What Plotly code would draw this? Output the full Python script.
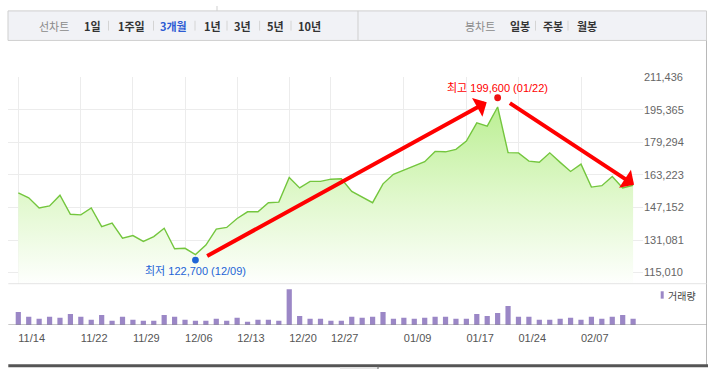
import plotly.graph_objects as go

W, H = 708, 369

# ---------------- data ----------------
dates = ["11/14", "11/15", "11/16", "11/17", "11/18", "11/21", "11/22", "11/23", "11/24", "11/25",
         "11/28", "11/29", "11/30", "12/01", "12/02", "12/05", "12/06", "12/09", "12/10", "12/11",
         "12/12", "12/13", "12/14", "12/15", "12/18", "12/19", "12/20", "12/21", "12/22", "12/26",
         "12/27", "12/28", "01/02", "01/03", "01/04", "01/05", "01/08", "01/09", "01/10", "01/11",
         "01/12", "01/15", "01/16", "01/17", "01/18", "01/19", "01/22", "01/23", "01/24", "01/25",
         "01/26", "01/29", "01/31", "02/02", "02/07", "02/08", "02/13", "02/14", "02/15", "02/16"]

close = [154300, 151900, 146900, 147900, 153200, 143800, 143500, 146900, 137700, 139400,
         132000, 133300, 130400, 132800, 136900, 126800, 127000, 123900, 128600, 136500,
         137300, 141700, 145000, 145000, 149500, 149800, 161900, 156800, 160000, 160000,
         161100, 161300, 155100, 152200, 149500, 158800, 163500, 165600, 167600, 169700,
         174800, 174600, 175800, 179900, 188900, 187300, 196700, 174200, 174100, 170000,
         169500, 174100, 169400, 164900, 168500, 157200, 157900, 162400, 156800, 158100]

volume = [133, 83, 63, 83, 73, 113, 83, 53, 103, 43,
          83, 53, 43, 43, 103, 83, 53, 43, 43, 63,
          43, 73, 33, 53, 53, 43, 363, 93, 63, 63,
          43, 43, 83, 73, 83, 133, 63, 73, 63, 73,
          83, 83, 63, 63, 113, 93, 123, 193, 83, 83,
          53, 53, 63, 73, 53, 83, 63, 83, 103, 63]

x_tick_labels = ["11/14", "11/22", "11/29", "12/06", "12/13", "12/20", "12/27",
                 "01/09", "01/17", "01/24", "02/07"]
y_tick_values = [115010, 131081, 147152, 163223, 179294, 195365, 211436]

low_date, low_value = "12/09", 122700
high_date, high_value = "01/22", 199600

# trend arrows: (tail index, tail value, head index, head value)
arrows = [(17.98, 122800, 44.95, 199100),
          (47.03, 199100, 59.09, 158350)]

tab_left = ["선차트", "1일", "1주일", "3개월", "1년", "3년", "5년", "10년"]
tab_right = ["봉차트", "일봉", "주봉", "월봉"]

# ---------------- helpers ----------------
def px(x):
    return x / W

def py(y):
    return 1 - y / H

PLOT_L, PLOT_R = 8.3, 643
PRICE_TOP, PRICE_BOT = 72.0, 282.3
VOL_BOT = 324.3
XR = [-0.96, 59.95]
YR = [109527, 211600]
tick_idx = [dates.index(t) for t in x_tick_labels]

FONT = "Liberation Sans, Arial, Noto Sans CJK KR, sans-serif"
KFONT = "Noto Sans CJK KR, Liberation Sans, sans-serif"

fig = go.Figure()

fig.add_trace(go.Scatter(
    x=dates, y=close, mode="lines",
    line=dict(color="#74c63e", width=1.4),
    fill="tozeroy",
    fillgradient=dict(type="vertical", start=YR[0], stop=196700,
                      colorscale=[[0, "#ffffff"], [0.5, "#e0f8cc"], [1, "#bcef94"]]),
    xaxis="x", yaxis="y", hoverinfo="skip", showlegend=False))

fig.add_trace(go.Bar(
    x=dates, y=volume, marker=dict(color="#9b87c6", line=dict(width=0)),
    width=0.5, xaxis="x2", yaxis="y2", hoverinfo="skip", showlegend=False))

annotations = []
shapes = []

# high / low dots, anchored at their values (slightly offset outward)
shapes.append(dict(type="circle", xref="x", yref="y",
                   xsizemode="pixel", xanchor=dates.index(high_date), x0=-3.4, x1=3.4,
                   ysizemode="pixel", yanchor=high_value, y0=0.0, y1=6.8,
                   fillcolor="#ee1111", line=dict(width=0)))
shapes.append(dict(type="circle", xref="x", yref="y",
                   xsizemode="pixel", xanchor=dates.index(low_date), x0=-3.4, x1=3.4,
                   ysizemode="pixel", yanchor=low_value, y0=-6.5, y1=0.3,
                   fillcolor="#1e64d6", line=dict(width=0)))

# arrows
for (ax0, ay0, x1, y1) in arrows:
    annotations.append(dict(
        x=x1, y=y1, ax=ax0, ay=ay0, xref="x", yref="y", axref="x", ayref="y",
        showarrow=True, arrowhead=1, arrowsize=0.9, arrowwidth=4,
        arrowcolor="#ff0000", text=""))

annotations.append(dict(
    x=high_date, y=high_value, xref="x", yref="y", yshift=13.4,
    xanchor="center", yanchor="middle",
    text=f"최고 {high_value:,} ({high_date})", showarrow=False,
    font=dict(family=FONT, size=11, color="#ff0000")))
annotations.append(dict(
    x=low_date, y=low_value, xref="x", yref="y", yshift=-14.1,
    xanchor="center", yanchor="middle",
    text=f"최저 {low_value:,} ({low_date})", showarrow=False,
    font=dict(family=FONT, size=11, color="#1e64d6")))

# top tab bar
shapes.append(dict(type="rect", xref="paper", yref="paper",
                   x0=px(8), x1=px(706.5), y0=py(35), y1=py(5),
                   fillcolor="#f1f2f6", line=dict(color="#cfcfcf", width=1), layer="below"))
shapes.append(dict(type="line", xref="paper", yref="paper",
                   x0=px(358), x1=px(358), y0=py(5), y1=py(35),
                   line=dict(color="#cfcfcf", width=1)))
shapes.append(dict(type="line", xref="paper", yref="paper",
                   x0=px(217), x1=px(217), y0=py(0), y1=py(5),
                   line=dict(color="#cfcfcf", width=1)))

left_cx = [54.2, 92.5, 131.4, 173.2, 212.2, 242.9, 275.4, 309.8]
right_cx = [479.7, 519.9, 553.1, 587.4]
for i, (t, cx) in enumerate(zip(tab_left, left_cx)):
    if i == 0:
        f = dict(family=KFONT, size=11, color="#8a8a8a")
        txt = t
    elif t == "3개월":
        f = dict(family=KFONT, size=11, color="#2d5bd3")
        txt = f"<b>{t}</b>"
    else:
        f = dict(family=KFONT, size=11, color="#333333")
        txt = f"<b>{t}</b>"
    annotations.append(dict(x=px(cx), y=py(20), xref="paper", yref="paper",
                            xanchor="center", yanchor="middle",
                            text=txt, showarrow=False, font=f))
for i, (t, cx) in enumerate(zip(tab_right, right_cx)):
    if i == 0:
        f = dict(family=KFONT, size=11, color="#8a8a8a")
        txt = t
    else:
        f = dict(family=KFONT, size=11, color="#333333")
        txt = f"<b>{t}</b>"
    annotations.append(dict(x=px(cx), y=py(20), xref="paper", yref="paper",
                            xanchor="center", yanchor="middle",
                            text=txt, showarrow=False, font=f))

for sx in [108.5, 153.5, 195.0, 227.0, 259.6, 291.0, 535.5, 568.0]:
    shapes.append(dict(type="line", xref="paper", yref="paper",
                       x0=px(sx), x1=px(sx), y0=py(15), y1=py(25),
                       line=dict(color="#d4d4d4", width=1)))

# frame lines
shapes.append(dict(type="line", xref="paper", yref="paper",
                   x0=px(706.5), x1=px(706.5), y0=py(35), y1=py(366),
                   line=dict(color="#b8b8b8", width=1)))
shapes.append(dict(type="line", xref="paper", yref="paper",
                   x0=px(PLOT_L), x1=px(706.5), y0=py(PRICE_BOT), y1=py(PRICE_BOT),
                   line=dict(color="#e4e4e4", width=1)))
shapes.append(dict(type="line", xref="paper", yref="y2",
                   x0=px(PLOT_L), x1=px(706.5), y0=0, y1=0,
                   line=dict(color="#8c8c8c", width=1)))
shapes.append(dict(type="line", xref="paper", yref="paper",
                   x0=px(PLOT_L), x1=px(708), y0=py(365.7), y1=py(365.7),
                   line=dict(color="#555555", width=3)))
shapes.append(dict(type="rect", xref="paper", yref="paper",
                   x0=px(340), x1=px(378), y0=py(369), y1=py(367.2),
                   fillcolor="#e6e6e6", line=dict(width=0)))
shapes.append(dict(type="line", xref="paper", yref="paper",
                   x0=px(378), x1=px(378), y0=py(369), y1=py(366),
                   line=dict(color="#666666", width=1)))

# volume legend
shapes.append(dict(type="rect", xref="paper", yref="paper",
                   x0=px(660.7), x1=px(663.7), y0=py(297.5), y1=py(290),
                   fillcolor="#9b87c6", line=dict(width=0)))
annotations.append(dict(x=px(666), y=py(294), xref="paper", yref="paper",
                        xanchor="left", yanchor="middle", text="거래량", showarrow=False,
                        font=dict(family=KFONT, size=10, color="#444444")))

fig.update_layout(
    width=W, height=H, margin=dict(l=0, r=0, t=0, b=0),
    paper_bgcolor="white", plot_bgcolor="rgba(0,0,0,0)",
    showlegend=False, bargap=0.5,
    xaxis=dict(domain=[px(PLOT_L), px(PLOT_R)], range=XR, type="category",
               anchor="y", tickvals=x_tick_labels, showticklabels=False, ticks="",
               showgrid=True, gridcolor="#ececec", gridwidth=1, zeroline=False,
               showline=False, fixedrange=True),
    yaxis=dict(domain=[py(PRICE_BOT), py(PRICE_TOP)], range=YR, side="right",
               anchor="x", tickvals=y_tick_values, tickformat=",d",
               showgrid=True, gridcolor="#ececec", gridwidth=1, zeroline=False,
               ticks="",
               tickfont=dict(family=FONT, size=11, color="#666666"),
               showline=False, fixedrange=True),
    xaxis2=dict(domain=[px(PLOT_L), px(PLOT_R)], range=XR, type="category",
                anchor="y2", tickvals=x_tick_labels, ticktext=x_tick_labels,
                ticks="", ticklabelposition="outside right", ticklabelstandoff=5,
                tickfont=dict(family=FONT, size=11, color="#555555"),
                showgrid=False, zeroline=False, showline=False, fixedrange=True),
    xaxis3=dict(domain=[px(PLOT_L), px(PLOT_R)], range=XR, type="linear",
                anchor="y2", overlaying="x2", tickvals=tick_idx,
                showticklabels=False, ticks="outside", ticklen=4,
                tickcolor="#8c8c8c", tickwidth=1,
                showgrid=False, zeroline=False, showline=False, fixedrange=True),
    yaxis2=dict(domain=[py(VOL_BOT), py(PRICE_BOT)], range=[0, 420],
                anchor="x2", visible=False, fixedrange=True),
    annotations=annotations, shapes=shapes,
)

fig.write_html("out.html", config={"displayModeBar": False},
               post_script="document.body.style.margin='0';document.body.style.overflow='hidden';")
